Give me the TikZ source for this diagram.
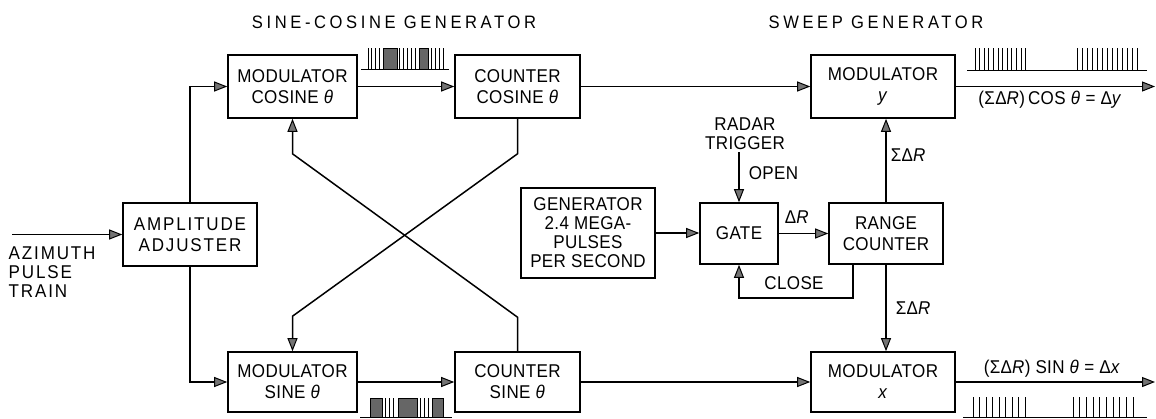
\documentclass[tikz,border=0pt]{standalone}
\usepackage{fontspec}
\setmainfont{Liberation Sans}[FakeStretch=0.92,LetterSpace=2]
\newfontfamily\titlefont{Liberation Sans}[FakeStretch=0.92,LetterSpace=20]
\usetikzlibrary{arrows.meta,calc}
\begin{document}
\begin{tikzpicture}[x=1pt,y=-1pt,
  line width=1.5pt,
  box/.style={draw,line width=1.6pt,align=center,inner sep=0pt,font=\fontsize{18.5}{21}\selectfont},
  lbl/.style={inner sep=0pt,align=center,font=\fontsize{18.5}{19}\selectfont},
  ttl/.style={inner sep=0pt,font=\fontsize{18}{19}\selectfont\titlefont},
  arr/.style={-{Triangle[length=13pt,width=10pt,fill=black!55,line width=1pt]}},
  pl/.style={line width=0.9pt},
  blk/.style={fill=black!60,draw=black,line width=0.8pt}]
\useasboundingbox (0,0) rectangle (1156,418);

% titles
\node[ttl] (t1) at (394,22) {SINE-COSINE GENERATOR};
\node[ttl] (t2) at (876,22) {SWEEP GENERATOR};

% boxes
\node[box,minimum width=129pt,minimum height=63pt] (mc) at (292.5,86.5) {MODULATOR\\COSINE \textit{θ}};
\node[box,minimum width=125pt,minimum height=63pt] (cc) at (517.5,86.5) {COUNTER\\COSINE \textit{θ}};
\node[box,minimum width=129pt,minimum height=60pt] (ms) at (292.5,382) {MODULATOR\\SINE \textit{θ}};
\node[box,minimum width=125pt,minimum height=60pt] (cs) at (517.5,382) {COUNTER\\SINE \textit{θ}};
\node[box,minimum width=134pt,minimum height=63pt] (amp) at (190,234.5) {\addfontfeature{LetterSpace=10}AMPLITUDE\\\addfontfeature{LetterSpace=10}ADJUSTER};
\node[box,minimum width=134pt,minimum height=90pt,font=\fontsize{18.5}{19}\selectfont] (gen) at (588,233) {GENERATOR\\2.4 MEGA-\\PULSES\\PER SECOND};
\node[box,minimum width=78pt,minimum height=61pt] (gate) at (739,233.5) {GATE};
\node[box,minimum width=114pt,minimum height=61pt] (rc) at (886,233.5) {RANGE\\COUNTER};
\node[box,minimum width=144pt,minimum height=63pt] (my) at (883,86.5) {MODULATOR\\\textit{y}};
\node[box,minimum width=144pt,minimum height=60pt] (mx) at (883,382) {MODULATOR\\\textit{x}};

% input
\node[lbl,anchor=west,align=left,font=\fontsize{18.5}{19}\selectfont\addfontfeature{LetterSpace=10}] (az) at (8,272) {AZIMUTH\\PULSE\\TRAIN};
\coordinate (azin) at (12,234.5);
\draw[arr] (azin) -- (amp.west);

% amplitude adjuster to modulators
\draw[arr] (amp.north) |- (mc.west);
\draw[arr] (amp.south) |- (ms.west);

% modulators to counters
\draw[arr] (mc.east) -- (cc.west);
\draw[arr] (ms.east) -- (cs.west);

% counters to sweep modulators
\draw[arr] (cc.east) -- (cc.east -| my.west);
\draw[arr] (cs.east) -- (cs.east -| mx.west);

% cross feedback
\draw[arr] (cc.south) -- ([yshift=-35pt]cc.south) -- ([yshift=35pt]ms.north) -- (ms.north);
\draw[arr] (cs.north) -- ([yshift=34pt]cs.north) -- ([yshift=-35pt]mc.south) -- (mc.south);

% generator, gate, range counter
\draw[arr] (gen.east) -- (gen.east -| gate.west);
\draw[arr] (gate.east) -- (gate.east -| rc.west);
\node[lbl] (dr) at (797,217) {Δ\textit{R}};

\node[lbl] (radar) at (745,134) {RADAR\\TRIGGER};
\coordinate (rt) at (739,152);
\draw[arr] (rt) -- (gate.north);
\node[lbl,anchor=west] (open) at (748,173) {OPEN};

\draw[arr] ([xshift=-33pt]rc.south) -- ([xshift=-33pt,yshift=-33pt]rc.south) -| (gate.south);
\node[lbl] (close) at (794,283) {CLOSE};

\draw[arr] (rc.north) -- (rc.north |- my.south);
\draw[arr] (rc.south) -- (rc.south |- mx.north);
\node[lbl,anchor=west] (s1) at (890,155) {ΣΔ\textit{R}};
\node[lbl,anchor=west] (s2) at (895,308) {ΣΔ\textit{R}};

% outputs
\coordinate (oy) at (1155,86.5);
\coordinate (ox) at (1155,382);
\draw[arr] (my.east) -- (oy);
\draw[arr] (mx.east) -- (ox);
\node[lbl] (ly) at (1050,100) {(ΣΔ\textit{R})\,COS \textit{θ} = Δ\textit{y}};
\node[lbl] (lx) at (1052,369) {(ΣΔ\textit{R}) SIN \textit{θ} = Δ\textit{x}};

% pulse train between cosine modulator and counter
\draw[pl] (361,69) -- (449,69);
\foreach \x in {368,371,375,379,399,403,407,411,415,431,435,439,443}
  \draw[pl] (\x,69) -- (\x,48);
\filldraw[blk] (383,69) rectangle (397,48);
\filldraw[blk] (419,69) rectangle (428,48);

% pulse train below sine modulator/counter
\draw[pl] (360,417) -- (452,417);
\foreach \x in {385,389,393,420,424,428}
  \draw[pl] (\x,417) -- (\x,398);
\filldraw[blk] (370,417) rectangle (382,398);
\filldraw[blk] (398,417) rectangle (417,398);
\filldraw[blk] (432,417) rectangle (443,398);

% output pulse train y
\draw[pl] (967,70) -- (1147,70);
\foreach \i in {0,...,11}
  \draw[pl] ({975+\i*4.6},70) -- ({975+\i*4.6},48);
\foreach \i in {0,...,12}
  \draw[pl] ({1077+\i*5},70) -- ({1077+\i*5},48);

% output pulse train x
\draw[pl] (963,417) -- (1147,417);
\foreach \i in {0,...,8}
  \draw[pl] ({973+\i*6.5},417) -- ({973+\i*6.5},397);
\foreach \i in {0,...,9}
  \draw[pl] ({1073+\i*6.67},417) -- ({1073+\i*6.67},397);
\end{tikzpicture}
\end{document}
